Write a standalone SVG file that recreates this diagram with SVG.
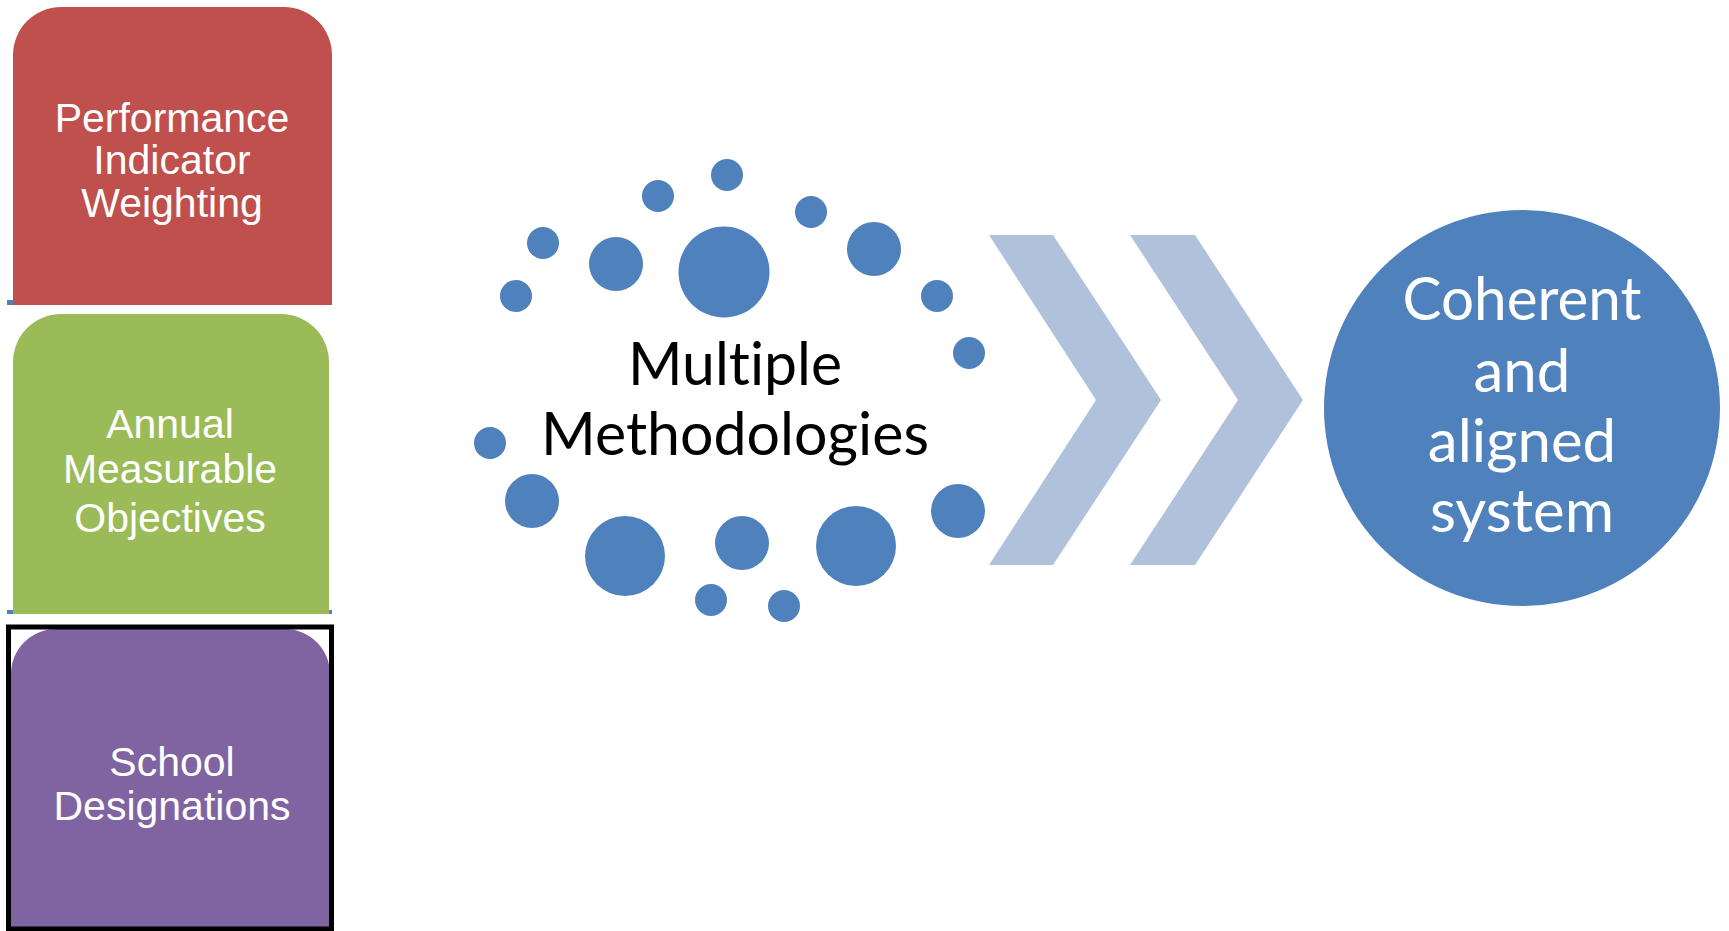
<svg xmlns="http://www.w3.org/2000/svg" width="1729" height="931" viewBox="0 0 1729 931">
  <defs>
    <style>
      .box-label { font-family: "Liberation Sans", Arial, sans-serif; font-size: 41px; fill: #ffffff; text-anchor: middle; }
      .big-label { font-family: Lato, "Open Sans", "Liberation Sans", sans-serif; font-size: 60px; text-anchor: middle; font-variant-ligatures: none; }
      .dot { fill: #4F81BD; }
      .chevron { fill: #B0C1DC; }
      .tick { fill: #4F81BD; }
    </style>
  </defs>

  <rect x="0" y="0" width="1729" height="931" fill="#ffffff"/>

  <!-- small blue ticks peeking out beneath the stacked boxes -->
  <g id="ticks">
    <rect class="tick" x="7" y="300" width="6" height="5"/>
    <rect class="tick" x="7" y="610" width="6" height="4"/>
    <rect class="tick" x="329" y="610" width="3" height="4"/>
  </g>

  <!-- Performance Indicator Weighting -->
  <g id="node-weighting">
    <path d="M13,305 L13,55 A48,48 0 0 1 61,7 L284,7 A48,48 0 0 1 332,55 L332,305 Z" fill="#C0504D"/>
    <text class="box-label" font-size="42" x="172" y="132">Performance</text>
    <text class="box-label" font-size="42" x="172" y="174">Indicator</text>
    <text class="box-label" font-size="42" x="172" y="217">Weighting</text>
  </g>

  <!-- Annual Measurable Objectives -->
  <g id="node-amo">
    <path d="M13,614 L13,362 A48,48 0 0 1 61,314 L281,314 A48,48 0 0 1 329,362 L329,614 Z" fill="#9BBB59"/>
    <text class="box-label" x="170" y="438">Annual</text>
    <text class="box-label" x="170" y="483">Measurable</text>
    <text class="box-label" x="170" y="532">Objectives</text>
  </g>

  <!-- School Designations -->
  <g id="node-designations">
    <path d="M11,929 L11,674 A45,45 0 0 1 56,629 L285,629 A45,45 0 0 1 330,674 L330,929 Z" fill="#8064A2"/>
    <rect x="8.5" y="627" width="323" height="302" fill="none" stroke="#000000" stroke-width="5"/>
    <text class="box-label" x="172" y="776">School</text>
    <text class="box-label" x="172" y="820">Designations</text>
  </g>

  <!-- Multiple Methodologies: ring of dots around the label -->
  <g id="node-methodologies">
    <circle class="dot" cx="727" cy="175" r="16"/>
    <circle class="dot" cx="658" cy="196" r="16"/>
    <circle class="dot" cx="811" cy="212" r="16"/>
    <circle class="dot" cx="543" cy="243" r="16"/>
    <circle class="dot" cx="616" cy="264" r="27"/>
    <circle class="dot" cx="724" cy="272" r="45.5"/>
    <circle class="dot" cx="874" cy="249" r="27"/>
    <circle class="dot" cx="516" cy="296" r="16"/>
    <circle class="dot" cx="937" cy="296" r="16"/>
    <circle class="dot" cx="969" cy="353" r="16"/>
    <circle class="dot" cx="490" cy="443" r="16"/>
    <circle class="dot" cx="532" cy="501" r="27"/>
    <circle class="dot" cx="625" cy="556" r="40"/>
    <circle class="dot" cx="742" cy="543" r="27"/>
    <circle class="dot" cx="856" cy="546" r="40"/>
    <circle class="dot" cx="958" cy="511" r="27"/>
    <circle class="dot" cx="711" cy="600" r="16"/>
    <circle class="dot" cx="784" cy="606" r="16"/>
    <text class="big-label" fill="#000000" x="735" y="385" textLength="214" lengthAdjust="spacingAndGlyphs">Multiple</text>
    <text class="big-label" fill="#000000" x="735" y="455" textLength="388" lengthAdjust="spacingAndGlyphs">Methodologies</text>
  </g>

  <!-- chevron arrows leading to the result -->
  <g id="connectors">
    <polygon class="chevron" points="989,235 1053,235 1161,400 1053,565 989,565 1096,400"/>
    <polygon class="chevron" points="1130,235 1195,235 1303,400 1195,565 1130,565 1238,400"/>
  </g>

  <!-- Coherent and aligned system -->
  <g id="node-system">
    <circle cx="1522" cy="408" r="198" fill="#4F81BD"/>
    <text class="big-label" fill="#ffffff" x="1522" y="320" textLength="239" lengthAdjust="spacingAndGlyphs">Coherent</text>
    <text class="big-label" fill="#ffffff" x="1522" y="392">and</text>
    <text class="big-label" fill="#ffffff" x="1522" y="462">aligned</text>
    <text class="big-label" fill="#ffffff" x="1522" y="532">system</text>
  </g>
</svg>
